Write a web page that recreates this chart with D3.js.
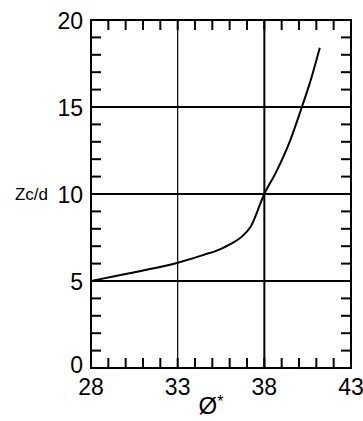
<!DOCTYPE html>
<html>
<head>
<meta charset="utf-8">
<script src="https://cdn.jsdelivr.net/npm/d3@7"></script>
<style>
  html, body { margin: 0; padding: 0; background: #fff; }
  svg { display: block; font-family: "Liberation Sans", Arial, sans-serif; }
</style>
</head>
<body>
<svg id="chart" width="363" height="421"></svg>
<script>
// Critical depth ratio Zc/d against friction angle Ø*
const phi = [28, 29.5, 31, 33, 34.5, 35.5, 36.2, 36.7, 37.2, 38, 38.7, 39.5, 40.2, 40.6, 41.2];
const zcd = [5.0, 5.3, 5.6, 6.05, 6.5, 6.85, 7.2, 7.55, 8.1, 10, 11.3, 13.1, 15.1, 16.3, 18.4];

const xTicks = [28, 33, 38, 43];
const yTicks = [0, 5, 10, 15, 20];
const xMinor = d3.range(28, 44, 1);
const yMinor = d3.range(0, 21, 1);

const svg = d3.select("#chart");
const plotL = 91, plotR = 351, plotT = 20, plotB = 368;

const x = d3.scaleLinear().domain([28, 43]).range([plotL, plotR]);
const y = d3.scaleLinear().domain([0, 20]).range([plotB, plotT]);

// minor ticks on all four sides, pointing inward
const tickLen = 10;
const g = svg.append("g").attr("stroke", "#000").attr("stroke-width", 2);
xMinor.forEach(v => {
  g.append("line").attr("x1", x(v)).attr("x2", x(v)).attr("y1", plotB).attr("y2", plotB - tickLen);
  g.append("line").attr("x1", x(v)).attr("x2", x(v)).attr("y1", plotT).attr("y2", plotT + tickLen);
});
yMinor.forEach(v => {
  g.append("line").attr("x1", plotL).attr("x2", plotL + tickLen).attr("y1", y(v)).attr("y2", y(v));
  g.append("line").attr("x1", plotR).attr("x2", plotR - tickLen).attr("y1", y(v)).attr("y2", y(v));
});

// grid lines at the major values
xTicks.slice(1, -1).forEach((v, i) => {
  svg.append("line").attr("x1", x(v)).attr("x2", x(v)).attr("y1", plotT).attr("y2", plotB)
    .attr("stroke", "#000").attr("stroke-width", i === 0 ? 1.2 : 2);
});
yTicks.slice(1, -1).forEach(v => {
  svg.append("line").attr("x1", plotL).attr("x2", plotR).attr("y1", y(v)).attr("y2", y(v))
    .attr("stroke", "#000").attr("stroke-width", 2);
});

// frame
svg.append("rect").attr("x", plotL).attr("y", plotT)
  .attr("width", plotR - plotL).attr("height", plotB - plotT)
  .attr("fill", "none").attr("stroke", "#000").attr("stroke-width", 2);

// curve
const line = d3.line().x((d, i) => x(phi[i])).y(d => y(d)).curve(d3.curveMonotoneX);
svg.append("path").datum(zcd).attr("d", line)
  .attr("fill", "none").attr("stroke", "#000").attr("stroke-width", 2);

// tick labels
svg.append("g").selectAll("text").data(yTicks).join("text")
  .attr("x", plotL - 8).attr("y", d => y(d) + (d === 0 ? -3 : 1)).attr("dy", "0.36em")
  .attr("text-anchor", "end").attr("font-size", 23).attr("fill", "#000")
  .text(d => d);
svg.append("g").selectAll("text").data(xTicks).join("text")
  .attr("x", d => x(d)).attr("y", plotB + 27)
  .attr("text-anchor", "middle").attr("font-size", 23).attr("fill", "#000")
  .text(d => d);

// axis titles
svg.append("text").attr("x", 48).attr("y", y(10)).attr("dy", "0.36em")
  .attr("text-anchor", "end").attr("font-size", 17).attr("fill", "#000").text("Zc/d");
const xt = svg.append("text").attr("x", 211).attr("y", 414)
  .attr("text-anchor", "middle").attr("font-size", 24).attr("fill", "#000");
xt.append("tspan").text("Ø");
xt.append("tspan").attr("font-size", 16).attr("dy", -7).text("*");
</script>
</body>
</html>
